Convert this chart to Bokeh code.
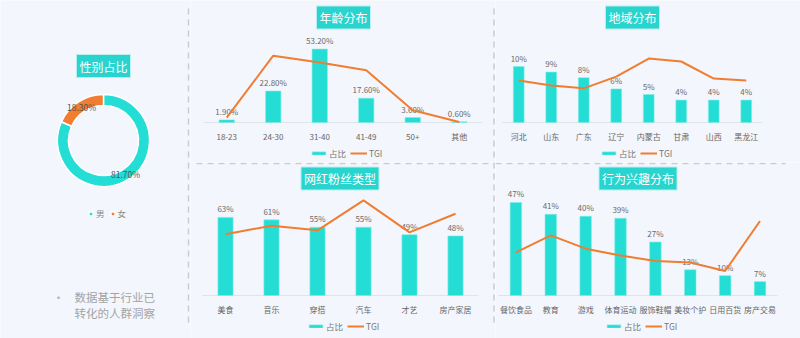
import math
from bokeh.plotting import figure
from bokeh.layouts import row, column
from bokeh.models import (Range1d, Label, Legend, LegendItem, ColumnDataSource, LinearAxis, FixedTicker)
from bokeh.core.properties import value
from bokeh.embed import file_html
from bokeh.resources import INLINE

FONT = "Noto Sans CJK SC"
BG = "#f3f6fc"
TEAL = "#24ddd5"
ORANGE = "#f07d30"
BADGE = "#29d4ce"
DASH = "#c8ccd3"

# ---------------- data ----------------
gender_labels = ["男", "女"]
gender_values = [81.7, 18.3]

age_cats = ["18-23", "24-30", "31-40", "41-49", "50+", "其他"]
age_share = [1.9, 22.8, 53.2, 17.6, 3.6, 0.6]
age_tgi = [10, 137, 123, 107, 25, 1]

region_cats = ["河北", "山东", "广东", "辽宁", "内蒙古", "甘肃", "山西", "黑龙江"]
region_share = [10, 9, 8, 6, 5, 4, 4, 4]
region_tgi = [86, 76, 70, 94, 131, 125, 90, 86]

fans_cats = ["美食", "音乐", "穿搭", "汽车", "才艺", "房产家居"]
fans_share = [63, 61, 55, 55, 49, 48]
fans_tgi = [92, 105, 98, 143, 95, 123]

interest_cats = ["餐饮食品", "教育", "游戏", "体育运动", "服饰鞋帽", "美妆个护", "日用百货", "房产交易"]
interest_share = [47, 41, 40, 39, 27, 13, 10, 7]
interest_tgi = [81, 113, 88, 75, 65, 62, 46, 140]


def base_fig(w, h, **kw):
    p = figure(width=w, height=h, output_backend="svg", toolbar_location=None,
               background_fill_color=BG, border_fill_color=BG, outline_line_color=None,
               min_border=0, x_axis_location=None, y_axis_location=None, **kw)
    p.xgrid.visible = False
    p.ygrid.visible = False
    return p


def bar_chart(cats, share, tgi, labels, title, w, h, c0, s, base, k, tgi_end,
              badge_xy, legend_xy, dashes):
    """c0: pixel of first category centre, s: pixel step, base: baseline pixel from top,
    k: pixels per percent."""
    n = len(cats)
    below = h - base
    p = base_fig(w, h, x_range=Range1d(-c0 / s, (w - c0) / s),
                 y_range=Range1d(-below / k, base / k))
    p.extra_y_ranges = {"tgi": Range1d(-below / base * tgi_end, tgi_end)}
    idx = list(range(n))
    src = ColumnDataSource(dict(i=idx, share=share, tgi=tgi, lab=labels))
    # baseline
    p.segment(x0=[-0.5], y0=[0], x1=[n - 0.5], y1=[0], line_color="#dfe3ea", line_width=1)
    bars = p.vbar(x="i", top="share", width=0.33, source=src, fill_color=TEAL,
                  line_color="#7fece6", line_width=0.6)
    p.text(x="i", y="share", text="lab", source=src, text_align="center", text_baseline="bottom",
           y_offset=-3, text_font=value(FONT), text_font_size="8px", text_color="#6b6b6b")
    line = p.line(x="i", y="tgi", source=src, y_range_name="tgi", line_color=ORANGE, line_width=2)
    ax = LinearAxis(fixed_location=0, ticker=FixedTicker(ticks=idx),
                    major_label_overrides={i: c for i, c in zip(idx, cats)})
    ax.axis_line_color = None
    ax.major_tick_line_color = None
    ax.minor_tick_line_color = None
    ax.major_tick_out = 0
    ax.major_tick_in = 0
    ax.minor_tick_out = 0
    ax.minor_tick_in = 0
    ax.major_label_text_font = FONT
    ax.major_label_text_font_size = "8px"
    ax.major_label_text_color = "#666666"
    ax.major_label_standoff = 8
    p.add_layout(ax, "below")
    p.add_layout(Label(x=badge_xy[0], y=badge_xy[1], x_units="screen", y_units="screen", text=title,
                       text_align="center", text_baseline="middle", text_color="white",
                       text_font=FONT, text_font_size="12px", background_fill_color=BADGE,
                       border_line_color="#b9efec", border_line_width=1, padding=3))
    leg = Legend(items=[LegendItem(label="占比", renderers=[bars]), LegendItem(label="TGI", renderers=[line])],
                 location=legend_xy, orientation="horizontal", glyph_width=17, glyph_height=4,
                 label_height=12, label_width=10, label_standoff=2, spacing=4, padding=0, margin=0,
                 label_text_font=FONT, label_text_font_size="8.5px", label_text_color="#777777",
                 background_fill_alpha=0, border_line_alpha=0)
    p.add_layout(leg)
    # dashed separators (given in pixels of this panel, converted to its data space)
    if dashes:
        X0, Y0, X1, Y1 = zip(*dashes)
        p.segment(x0=[(v - c0) / s for v in X0], y0=[(base - v) / k for v in Y0],
                  x1=[(v - c0) / s for v in X1], y1=[(base - v) / k for v in Y1],
                  line_color=DASH, line_dash="6 5", line_width=1.5)
    return p


# ---------------- left panel ----------------
LH = 338
left = base_fig(190, LH, x_range=Range1d(0, 190), y_range=Range1d(0, LH))
cx, cy = 103, LH - 140
# start at 12 o'clock, female first going counter-clockwise
order = [1, 0]
starts, ends = [0.0, 0.0], [0.0, 0.0]
a = math.pi / 2
for i in order:
    starts[i] = a
    a += 2 * math.pi * gender_values[i] / sum(gender_values)
    ends[i] = a
gsrc = ColumnDataSource(dict(x=[cx, cx], y=[cy, cy], s=starts, e=ends, c=[TEAL, ORANGE]))
donut = left.annular_wedge(x="x", y="y", inner_radius=35, outer_radius=46,
                           inner_radius_units="screen", outer_radius_units="screen",
                           start_angle="s", end_angle="e", fill_color="c",
                           line_color="white", line_width=1.5, source=gsrc)
mids = [(s + e) / 2 for s, e in zip(starts, ends)]
left.text(x=[cx + 40.5 * math.cos(m) for m in mids], y=[cy + 40.5 * math.sin(m) for m in mids],
          text=["%.2f%%" % v for v in gender_values], text_align="center", text_baseline="middle",
          text_font=value(FONT), text_font_size="8.5px", text_color="#555555")
left.add_layout(Label(x=103, y=LH - 65.5, text="性别占比", text_align="center", text_baseline="middle",
                      text_color="white", text_font=FONT, text_font_size="12px",
                      background_fill_color=BADGE, border_line_color="#b9efec", border_line_width=1,
                      padding=3))
gleg = Legend(items=[LegendItem(label=gender_labels[0], renderers=[donut], index=0),
                     LegendItem(label=gender_labels[1], renderers=[donut], index=1)],
              location=(88, LH - 213 - 6), orientation="horizontal", glyph_width=5, glyph_height=5,
              label_height=12, label_width=8, label_standoff=3, spacing=5, padding=0, margin=0,
              label_text_font=FONT, label_text_font_size="8.5px", label_text_color="#888888",
              background_fill_alpha=0, border_line_alpha=0)
left.add_layout(gleg)
left.text(x=[58], y=[LH - 297], text=["•"], text_align="center", text_baseline="middle",
          text_font=value(FONT), text_font_size="12px", text_color="#b5b5b5")
left.text(x=[74, 74], y=[LH - 296, LH - 312], text=["数据基于行业已", "转化的人群洞察"],
          text_align="left", text_baseline="middle", text_font=value(FONT),
          text_font_size="11.5px", text_color="#a4a4a4")
left.segment(x0=[188], y0=[LH - 8], x1=[188], y1=[LH - 325], line_color=DASH,
             line_dash="6 5", line_width=1.5)

# ---------------- charts ----------------
TOP_H, BOT_H = 162, 176
age = bar_chart(age_cats, age_share, age_tgi, ["%.2f%%" % v for v in age_share], "年龄分布",
                305, TOP_H, 36.25, 46.5, 122, 1.38, 250, (153, 145), (120, 3),
                [(303.5, 8, 303.5, TOP_H)])
region = bar_chart(region_cats, region_share, region_tgi, ["%d%%" % v for v in region_share], "地域分布",
                   305, TOP_H, 23.25, 32.5, 122, 5.6, 250, (137, 145), (105, 3), None)
fans = bar_chart(fans_cats, fans_share, fans_tgi, ["%d%%" % v for v in fans_share], "网红粉丝类型",
                 305, BOT_H, 35, 46, 133, 1.24, 200, (149.5, 160), (117, 6),
                 [(303.5, 0, 303.5, 163), (6, 1, 305, 1)])
interest = bar_chart(interest_cats, interest_share, interest_tgi, ["%d%%" % v for v in interest_share],
                     "行为兴趣分布", 305, BOT_H, 20.4, 34.875, 133, 1.98, 250, (142.5, 160), (110, 6),
                     [(0, 1, 290, 1)])

layout = row(left, column(row(age, region), row(fans, interest)))

with open("out.html", "w") as f:
    f.write(file_html(layout, INLINE))
